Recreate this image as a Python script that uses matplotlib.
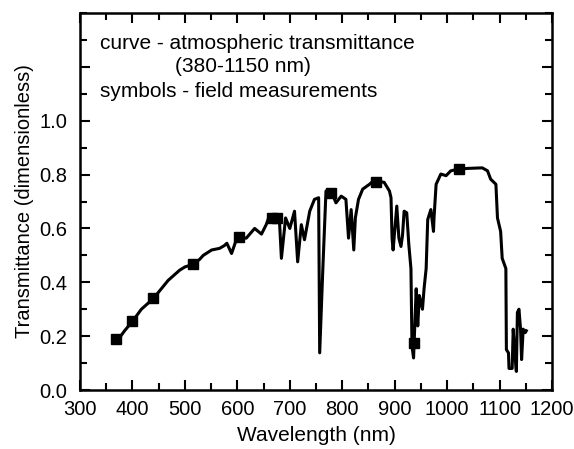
import matplotlib
matplotlib.use("Agg")
import matplotlib.pyplot as plt
from matplotlib.ticker import MultipleLocator

plt.rcParams['font.family'] = ['Liberation Sans', 'DejaVu Sans']

# atmospheric transmittance curve
wavelength = [370, 385, 400, 417, 440, 468, 490, 500, 516, 528, 535, 551, 566, 575, 580,
              589, 598, 605, 617, 633, 646, 655, 662, 670, 680, 684, 692, 700, 709, 715,
              722, 728, 738, 747, 755, 757, 763, 769, 779, 788, 798, 807, 812, 817, 822,
              825, 831, 839, 852, 861, 870, 880, 890, 893, 895, 897, 904, 908, 912, 915,
              918, 923, 927, 931, 933, 936, 941, 944, 947, 953, 956, 960, 963, 969, 974,
              975, 979, 988, 998, 1007, 1023, 1040, 1067, 1077, 1083, 1093, 1096, 1102,
              1105, 1112, 1113, 1117, 1118, 1124, 1126, 1129, 1132, 1134, 1137, 1140,
              1142, 1145, 1149, 1151]
transmittance = [0.18, 0.22, 0.255, 0.30, 0.34, 0.407, 0.445, 0.457, 0.467, 0.485, 0.50,
                 0.52, 0.526, 0.536, 0.545, 0.507, 0.558, 0.565, 0.564, 0.60, 0.579, 0.614,
                 0.652, 0.64, 0.64, 0.489, 0.639, 0.60, 0.664, 0.476, 0.614, 0.558, 0.664,
                 0.708, 0.714, 0.138, 0.45, 0.739, 0.739, 0.695, 0.72, 0.708, 0.564, 0.67,
                 0.52, 0.639, 0.708, 0.746, 0.764, 0.78, 0.775, 0.771, 0.739, 0.714, 0.564,
                 0.52, 0.683, 0.564, 0.533, 0.576, 0.664, 0.658, 0.539, 0.451, 0.163,
                 0.119, 0.376, 0.238, 0.351, 0.30, 0.376, 0.451, 0.633, 0.67, 0.589,
                 0.639, 0.764, 0.802, 0.796, 0.814, 0.821, 0.823, 0.825, 0.814, 0.783,
                 0.764, 0.639, 0.589, 0.489, 0.451, 0.150, 0.138, 0.08, 0.08, 0.226,
                 0.138, 0.069, 0.288, 0.30, 0.226, 0.113, 0.226, 0.213, 0.22]

# field measurements
meas_wl = [369, 399, 440, 516, 604, 666, 676, 779, 865, 937, 1023]
meas_t = [0.188, 0.257, 0.341, 0.467, 0.570, 0.64, 0.64, 0.733, 0.771, 0.175, 0.821]

fig = plt.figure(figsize=(5.74, 4.49), dpi=100)
ax = fig.add_axes([0.1394, 0.1314, 0.8223, 0.8396])

ax.plot(wavelength, transmittance, color='black', lw=2.2)
ax.plot(meas_wl, meas_t, 's', color='black', ms=7)

ax.set_xlim(300, 1200)
ax.set_ylim(0, 1.4)
ax.xaxis.set_major_locator(MultipleLocator(100))
ax.xaxis.set_minor_locator(MultipleLocator(50))
ax.yaxis.set_minor_locator(MultipleLocator(0.1))
ax.set_yticks([0.0, 0.2, 0.4, 0.6, 0.8, 1.0, 1.2])
ax.set_yticklabels(['0.0', '0.2', '0.4', '0.6', '0.8', '1.0', ''])

ax.tick_params(which='both', direction='in', top=True, right=True, width=1.5, labelsize=14.5)
ax.tick_params(which='major', length=7)
ax.tick_params(which='minor', length=5)
ax.tick_params(axis='x', which='major', pad=7)
ax.tick_params(axis='y', which='major', pad=9)
for s in ax.spines.values():
    s.set_linewidth(1.8)

ax.set_xlabel('Wavelength (nm)', fontsize=15, labelpad=5)
ax.set_ylabel('Transmittance (dimensionless)', fontsize=14.5, labelpad=4)

ax.text(0.042, 0.92, 'curve - atmospheric transmittance', transform=ax.transAxes,
        fontsize=15, va='center')
ax.text(0.201, 0.857, '(380-1150 nm)', transform=ax.transAxes, fontsize=15, va='center')
ax.text(0.042, 0.793, 'symbols - field measurements', transform=ax.transAxes,
        fontsize=15, va='center')

fig.savefig('out.png', dpi=100)
